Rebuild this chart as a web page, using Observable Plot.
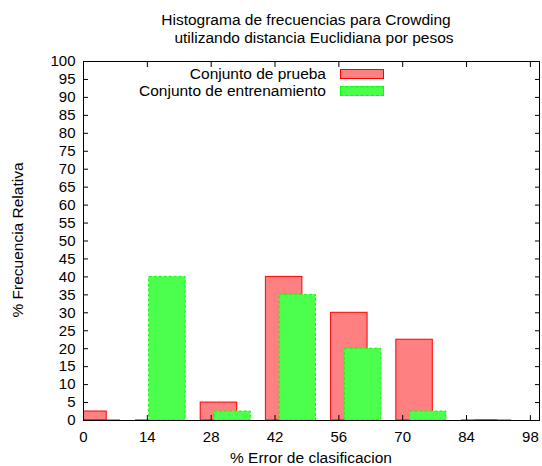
<!DOCTYPE html>
<html><head><meta charset="utf-8">
<script src="https://cdn.jsdelivr.net/npm/d3@7"></script>
<script src="https://cdn.jsdelivr.net/npm/@observablehq/plot@0.6"></script>
<style>
body{margin:0;background:#fff;font-family:"Liberation Sans",Arial,sans-serif;}
#wrap{position:relative;width:542px;height:466px;}
.t{position:absolute;font-size:15.5px;line-height:18px;color:#000;white-space:nowrap;}
.c{transform:translateX(-50%);}
.sw{position:absolute;box-sizing:border-box;}
</style></head><body><div id="wrap"></div>
<script>
const titleLines = ["Histograma de frecuencias para Crowding", "utilizando distancia Euclidiana por pesos"];
const xLabel = "% Error de clasificacion";
const yLabel = "% Frecuencia Relativa";
const seriesNames = ["Conjunto de prueba", "Conjunto de entrenamiento"];
const xTicks = [0, 14, 28, 42, 56, 70, 84, 98];
const yTicks = [0, 5, 10, 15, 20, 25, 30, 35, 40, 45, 50, 55, 60, 65, 70, 75, 80, 85, 90, 95, 100];
const pruebaCenters = [1.1, 15.4, 29.7, 44.0, 58.3, 72.6, 86.9];
const entrenCenters = [4.1, 18.4, 32.7, 47.0, 61.3, 75.6, 89.9];
const prueba = [2.5, 0, 5, 40, 30, 22.5, 0];
const entrenamiento = [0, 40, 2.5, 35, 20, 2.5, 0];
const barWidth = 8;

const red = prueba.map((v, i) => ({c: pruebaCenters[i], v}));
const green = entrenamiento.map((v, i) => ({c: entrenCenters[i], v}));
const x1 = d => d.c - barWidth / 2, x2 = d => d.c + barWidth / 2;

const chart = Plot.plot({
  width: 542, height: 466,
  marginLeft: 83, marginRight: 3, marginTop: 61, marginBottom: 46,
  style: {fontSize: "15px", fontFamily: "'Liberation Sans', Arial, sans-serif", color: "#000", background: "#fff"},
  x: {domain: [0, 100]},
  y: {domain: [0, 100]},
  marks: [
    Plot.rectY(red.filter(d => d.v > 0), {x1, x2, y1: 0, y2: "v", fill: "#ff8080", stroke: "#ff0000", strokeWidth: 1, clip: true}),
    Plot.ruleY(red.filter(d => d.v === 0), {y: 0, x1, x2, stroke: "#b00000", strokeWidth: 2, clip: true}),
    Plot.rectY(green.filter(d => d.v > 0), {x1, x2, y1: 0, y2: "v", fill: "#4dff4d", stroke: "#00ff00", strokeWidth: 1, strokeDasharray: "3,2", clip: true}),
    Plot.ruleY(green.filter(d => d.v === 0), {y: 0, x1, x2, stroke: "#008000", strokeWidth: 2, clip: true}),
    Plot.frame({stroke: "#000", strokeWidth: 1}),
    Plot.axisX({ticks: xTicks, anchor: "bottom", tickSize: -5, tickPadding: 15.5, label: null, stroke: "#000"}),
    Plot.axisX({ticks: xTicks, anchor: "top", tickSize: -5, tickFormat: () => "", label: null}),
    Plot.axisY({ticks: yTicks, anchor: "left", tickSize: -5, tickPadding: 13, label: null}),
    Plot.axisY({ticks: yTicks, anchor: "right", tickSize: -5, tickFormat: () => "", label: null})
  ]
});
const wrap = document.getElementById("wrap");
wrap.appendChild(chart);
chart.style.position = "absolute"; chart.style.left = "0"; chart.style.top = "0";

function addText(txt, cls, css) {
  const d = document.createElement("div");
  d.className = "t " + cls;
  d.textContent = txt;
  Object.assign(d.style, css);
  wrap.appendChild(d);
  return d;
}
addText(titleLines[0], "c", {left: "306px", top: "11px"});
addText(titleLines[1], "c", {left: "314px", top: "29px"});
addText(xLabel, "c", {left: "311px", top: "449px"});
addText(yLabel, "", {left: "18px", top: "240px", transform: "translate(-50%,-50%) rotate(-90deg)"});
addText(seriesNames[0], "", {right: "216px", top: "65px"});
addText(seriesNames[1], "", {right: "216px", top: "82px"});
const s1 = document.createElement("div"); s1.className = "sw";
Object.assign(s1.style, {left: "340px", top: "69px", width: "44px", height: "10px", background: "#ff8080", border: "1px solid #ff0000"});
const s2 = document.createElement("div"); s2.className = "sw";
Object.assign(s2.style, {left: "340px", top: "86px", width: "44px", height: "10px", background: "#4dff4d", border: "1px dashed #00ff00"});
wrap.appendChild(s1); wrap.appendChild(s2);
</script></body></html>
